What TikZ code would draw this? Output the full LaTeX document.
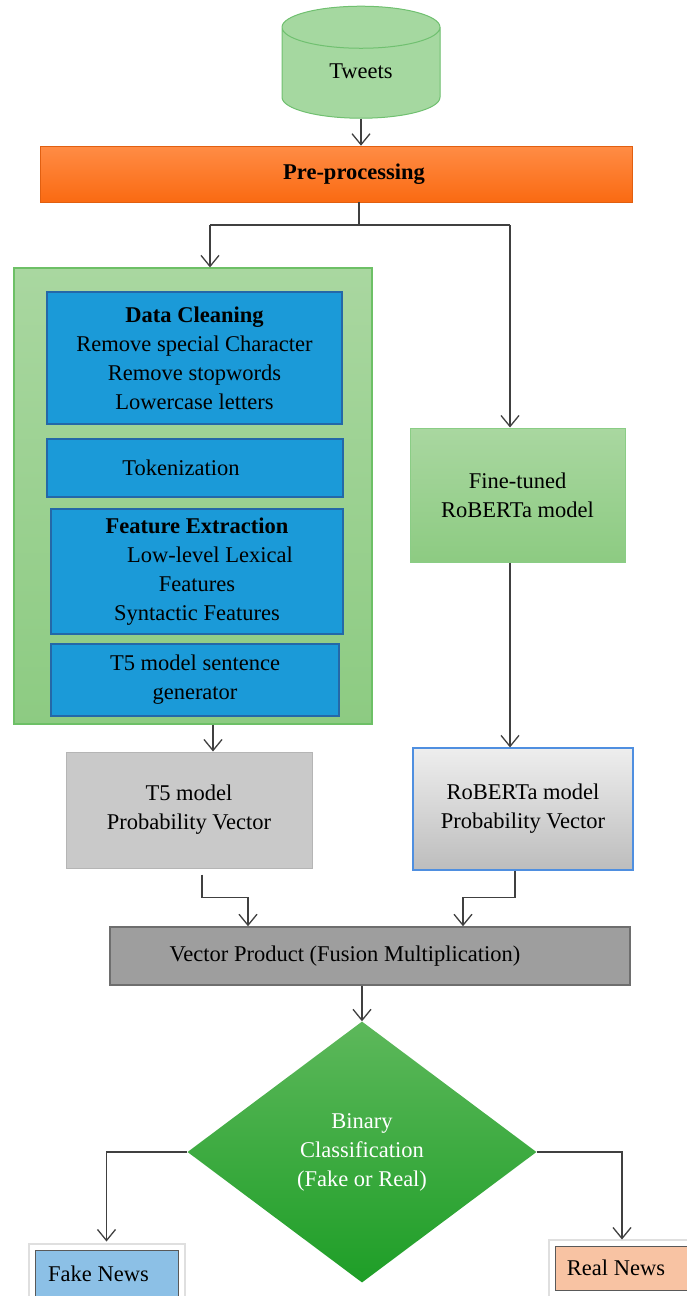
\documentclass[tikz,border=0pt]{standalone}
\usepackage{fontspec}
\setmainfont{Liberation Serif}
\usetikzlibrary{shapes.geometric,arrows.meta}

\definecolor{cylgreen}{HTML}{A5D8A0}
\definecolor{cylborder}{HTML}{70C070}
\definecolor{preorangetop}{HTML}{FF8C45}
\definecolor{preorangebot}{HTML}{FA6A12}
\definecolor{conttop}{HTML}{A9D7A0}
\definecolor{contbot}{HTML}{8DCB82}
\definecolor{contborder}{HTML}{6DC066}
\definecolor{stepblue}{HTML}{1B9AD8}
\definecolor{stepborder}{HTML}{2468A8}
\definecolor{tfgray}{HTML}{C9C9C9}
\definecolor{tfborder}{HTML}{B5B5B5}
\definecolor{rbtop}{HTML}{EEEEEE}
\definecolor{rbbot}{HTML}{BDBDBD}
\definecolor{rbborder}{HTML}{4F8FE0}
\definecolor{fusiongray}{HTML}{9E9E9E}
\definecolor{fusionborder}{HTML}{6E6E6E}
\definecolor{diamtop}{HTML}{5DB85B}
\definecolor{diambot}{HTML}{1E9E27}
\definecolor{fakeblue}{HTML}{8CC0E6}
\definecolor{realpeach}{HTML}{F8C3A3}
\definecolor{linegray}{HTML}{404040}

\begin{document}
\begin{tikzpicture}[x=1pt, y=-1pt, >={Straight Barb[length=11pt,width=18pt]},
    font=\fontsize{22.5}{29}\selectfont]

    \useasboundingbox (0,0) rectangle (687,1296);

    % styles
    \tikzstyle{db}=[cylinder, shape border rotate=90, aspect=0.6, draw=cylborder, line width=1pt, fill=cylgreen, cylinder uses custom fill, cylinder body fill=cylgreen, cylinder end fill=cylgreen!85!white]
    \tikzstyle{prebox}=[rectangle, top color=preorangetop, bottom color=preorangebot, draw=preorangebot!90!black, line width=0.6pt]
    \tikzstyle{container}=[rectangle, top color=conttop, bottom color=contbot, draw=contborder, line width=1.2pt]
    \tikzstyle{bluebox}=[rectangle, fill=stepblue, draw=stepborder, line width=1.5pt, align=center]
    \tikzstyle{greenbox}=[rectangle, top color=conttop, bottom color=contbot, draw=contborder!80!white, line width=1pt, align=center]
    \tikzstyle{graybox}=[rectangle, fill=tfgray, draw=tfborder, line width=1pt, align=center]
    \tikzstyle{shadedbox}=[rectangle, top color=rbtop, bottom color=rbbot, draw=rbborder, line width=1.2pt, align=center]
    \tikzstyle{fusionbox}=[rectangle, fill=fusiongray, draw=fusionborder, line width=1.5pt]
    \tikzstyle{decision}=[diamond, top color=diamtop, bottom color=diambot, inner sep=0pt, text=white, align=center]
    \tikzstyle{newsbox}=[rectangle, draw=black!65, line width=1pt, preaction={draw=gray!25, line width=15pt}, preaction={draw=white, line width=11pt}]
    \tikzstyle{flow}=[->, line width=1.3pt, linegray]
    \tikzstyle{plain}=[line width=1.3pt, linegray]

    % input and pre-processing
    \node[db, minimum width=158pt, minimum height=112pt] (tweets) at (361,76) {\raisebox{9pt}{Tweets}};
    \node[prebox, minimum width=592pt, minimum height=56pt] (pre) at (336,174) {\hspace*{36pt}\textbf{Pre-processing}};

    % left branch (T5)
    \node[container, minimum width=358pt, minimum height=456pt] (prep) at (193,496) {};
    \node[bluebox, minimum width=295pt, minimum height=132pt] (clean) at (194.5,358)
        {\textbf{Data Cleaning}\\Remove special Character\\Remove stopwords\\Lowercase letters};
    \node[bluebox, minimum width=296pt, minimum height=58pt] (token) at (195,468) {Tokenization\hspace*{28pt}};
    \node[bluebox, minimum width=292pt, minimum height=125pt] (feature) at (197,571.5)
        {\textbf{Feature Extraction}\\\hspace*{26pt}Low-level Lexical\\Features\\Syntactic Features};
    \node[bluebox, minimum width=288pt, minimum height=72pt] (tfive) at (195,680) {T5 model sentence\\generator};
    \node[graybox, minimum width=246pt, minimum height=116pt] (tfprob) at (189,810) {T5 model\\Probability Vector};

    % right branch (RoBERTa)
    \node[greenbox, minimum width=215pt, minimum height=134pt] (roberta) at (517.5,495) {Fine-tuned\\RoBERTa model};
    \node[shadedbox, minimum width=220pt, minimum height=122pt] (rbprob) at (523,809) {RoBERTa model\\Probability Vector};

    % fusion and decision
    \node[fusionbox, minimum width=520pt, minimum height=58pt] (fusion) at (370,956) {Vector Product (Fusion Multiplication)\hspace*{50pt}};
    \node[decision, minimum width=349pt, minimum height=261pt] (binary) at (362,1152) {Binary\\Classification\\(Fake or Real)};
    \node[newsbox, fill=fakeblue, minimum width=143pt, minimum height=48pt] (fake) at (106.5,1274) {Fake News\hspace*{16pt}};
    \node[newsbox, fill=realpeach, minimum width=134pt, minimum height=44pt] (real) at (622,1268) {Real News\hspace*{12pt}};

    % split point
    \coordinate (split) at (359,225);
    \coordinate (splitl) at (210,225);
    \coordinate (splitr) at (510,225);

    % connectors
    \draw[flow] (tweets.south) -- (tweets.south |- pre.north);
    \draw[plain] (pre.south -| split) -- (split);
    \draw[plain] (splitl) -- (splitr);
    \draw[flow] (splitl) -- (splitl |- prep.north);
    \draw[flow] (splitr) -- (splitr |- roberta.north);
    \draw[flow] ([xshift=20pt]prep.south) -- ([xshift=20pt]prep.south |- tfprob.north);
    \draw[flow] ([xshift=-7.5pt]roberta.south) -- ([xshift=-7.5pt]roberta.south |- rbprob.north);
    \draw[flow, shorten <=6pt] ([xshift=13pt]tfprob.south) -- ++(0,29) -| ([xshift=-122pt]fusion.north);
    \draw[flow] ([xshift=-8pt]rbprob.south) -- ++(0,27) -| ([xshift=93pt]fusion.north);
    \draw[flow] (fusion.south -| binary.north) -- (binary.north);
    \draw[flow, shorten >=8pt] (binary.west) -| (fake.north);
    \draw[flow, shorten >=6pt] (binary.east) -| (real.north);

\end{tikzpicture}
\end{document}
